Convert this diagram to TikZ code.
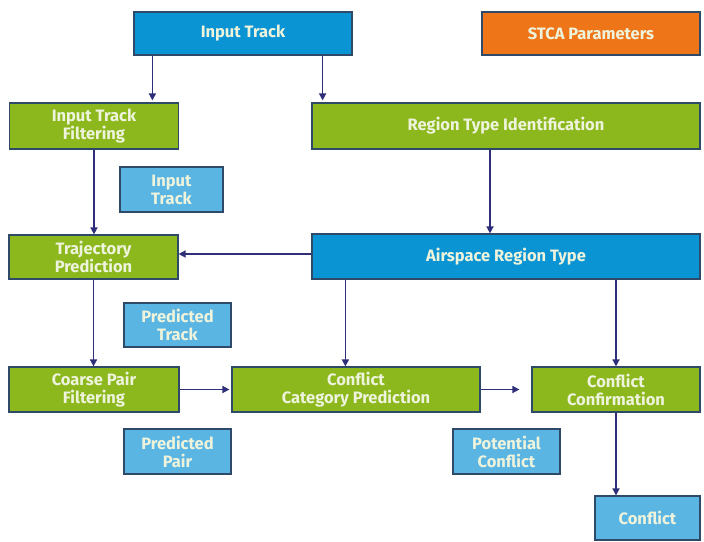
\documentclass[tikz,border=0pt]{standalone}
\usepackage{fontspec}
\setmainfont{Fira Sans}
\usetikzlibrary{arrows.meta}
\definecolor{darkblue}{HTML}{0A94D4}
\definecolor{lightblue}{HTML}{5BB5E3}
\definecolor{boxgreen}{HTML}{8CB81E}
\definecolor{boxorange}{HTML}{EE7518}
\definecolor{edgecol}{HTML}{2E4A68}
\definecolor{arrowcol}{HTML}{2E2F78}
\definecolor{boxtext}{HTML}{EEF3DC}
\begin{document}
\begin{tikzpicture}[x=1pt,y=-1pt,
  box/.style={draw=edgecol,line width=1.2pt,inner sep=0pt,align=center,
    text=boxtext,font=\bfseries\fontsize{16.5}{18}\selectfont},
  bluebox/.style={box,fill=darkblue},
  lbox/.style={box,fill=lightblue},
  gbox/.style={box,fill=boxgreen},
  obox/.style={box,fill=boxorange},
  arr/.style={draw=arrowcol,line width=1.6pt,-{Triangle[width=7pt,length=7pt]}}]
\useasboundingbox[fill=white] (0,0) rectangle (704,541);
\node[bluebox,minimum width=218pt,minimum height=43pt] (IT) at (243,33.5) {Input Track};
\node[obox,minimum width=218pt,minimum height=43pt] (STCA) at (591,33.5) {STCA Parameters};
\node[gbox,minimum width=169pt,minimum height=46pt] (ITF) at (94,126) {Input Track\\Filtering};
\node[gbox,minimum width=388pt,minimum height=46pt] (RTI) at (506,126) {Region Type Identification};
\node[lbox,minimum width=103pt,minimum height=45pt] (ITs) at (171.5,189.5) {Input\\Track};
\node[gbox,minimum width=169pt,minimum height=44pt] (TP) at (93.5,257) {Trajectory\\Prediction};
\node[bluebox,minimum width=388pt,minimum height=45pt] (ART) at (506,256.5) {Airspace Region Type};
\node[lbox,minimum width=107pt,minimum height=44pt] (PT) at (177.5,325) {Predicted\\Track};
\node[gbox,minimum width=170pt,minimum height=45pt] (CPF) at (94,389.5) {Coarse Pair\\Filtering};
\node[gbox,minimum width=248pt,minimum height=45pt] (CCP) at (356,389.5) {Conflict\\Category Prediction};
\node[gbox,minimum width=168pt,minimum height=45pt] (CC) at (616,389.5) {Conflict\\Confirmation};
\node[lbox,minimum width=107pt,minimum height=45pt] (PP) at (177.5,451.5) {Predicted\\Pair};
\node[lbox,minimum width=107pt,minimum height=45pt] (PC) at (506.5,451.5) {Potential\\Conflict};
\node[lbox,minimum width=105pt,minimum height=44pt] (CF) at (647.5,518) {Conflict};
% connectors
\draw[arr,shorten >=2pt] ([xshift=19pt]IT.south west) -- ([xshift=19pt]IT.south west |- ITF.north);
\draw[arr,shorten >=2pt] ([xshift=-30pt]IT.south east) -- ([xshift=-30pt]IT.south east |- RTI.north);
\draw[arr] (ITF.south) -- (ITF.south |- TP.north);
\draw[arr] ([xshift=-16pt]RTI.south) -- ([xshift=-16pt]RTI.south |- ART.north);
\draw[arr] ([yshift=2.5pt]ART.west) -- ([yshift=2.5pt]ART.west -| TP.east);
\draw[arr] (TP.south) -- (TP.south |- CPF.north);
\draw[arr] ([xshift=34pt]ART.south west) -- ([xshift=34pt]ART.south west |- CCP.north);
\draw[arr] (CC.north |- ART.south) -- (CC.north);
\draw[arr,shorten >=2pt] (CPF.east) -- (CCP.west);
\draw[arr,shorten >=12pt] (CCP.east) -- (CC.west);
\draw[arr] (CC.south) -- (CC.south |- CF.north);
\end{tikzpicture}
\end{document}
